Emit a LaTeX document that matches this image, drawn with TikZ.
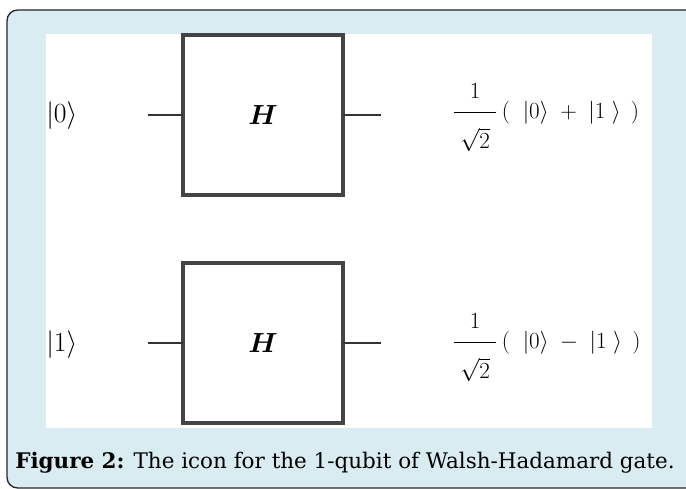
\documentclass[tikz,border=0pt]{standalone}
\usepackage{amsmath,amssymb,bm}
\usepackage{fontspec}
\usepackage{tikz}
\usetikzlibrary{positioning}
\newfontfamily\capfont{DejaVu Serif}
\definecolor{capblue}{RGB}{216,236,241}
\definecolor{gategray}{RGB}{68,68,68}

\begin{document}
\begin{tikzpicture}[x=0.75pt, y=-0.75pt, node distance=51pt, every node/.style={font=\fontsize{18}{21}\selectfont}]
\tikzstyle{gate}=[draw=gategray, line width=2.4pt, outer sep=0pt, minimum width=120pt, minimum height=120pt, inner sep=0pt, font=\fontsize{20}{24}\selectfont]
\tikzstyle{wire}=[draw=black!80, line width=1.9pt]
\tikzstyle{ket}=[anchor=west, inner sep=0pt, font=\fontsize{22}{26}\selectfont]
\tikzstyle{state}=[anchor=base west, inner sep=0pt]
\useasboundingbox (0,0) rectangle (686,489);
\draw[black!85, line width=1pt, fill=capblue, rounded corners=8pt] (7,10) rectangle (720,488);
\fill[white] (46,34) rectangle (652,428);
\node[gate] (hzero) at (263,115) {$\bm{H}$};
\node[gate, below=of hzero] (hone) {$\bm{H}$};
\coordinate (inzero) at (148,115);
\coordinate (outzero) at (381,115);
\draw[wire] (inzero) -- (hzero.west);
\draw[wire] (hzero.east) -- (outzero);
\path (hone.west) ++(-35,0) coordinate (inone);
\path (hone.east) ++(38,0) coordinate (outone);
\draw[wire] (inone) -- (hone.west);
\draw[wire] (hone.east) -- (outone);
\node[ket] (ketzero) at (46,116) {$|0\rangle$};
\node[ket] (ketone) at (46,345) {$|1\rangle$};
\node[state] (sumzero) at (452,118) {$\dfrac{\raisebox{3pt}{$1$}}{\;\rule{0pt}{25pt}\sqrt{2}\;}\,(\;\;|0\rangle \;+\; |1\;\rangle\;\,)$};
\node[state] (sumone) at (452,348) {$\dfrac{\raisebox{3pt}{$1$}}{\;\rule{0pt}{25pt}\sqrt{2}\;}\,(\;\;|0\rangle \;-\; |1\;\rangle\;\,)$};
\node[anchor=base west, inner sep=0pt, font=\capfont\fontsize{16.1}{19}\selectfont] (caption) at (15,468) {\textbf{Figure 2:} The icon for the 1-qubit of Walsh-Hadamard gate.};
\end{tikzpicture}
\end{document}
